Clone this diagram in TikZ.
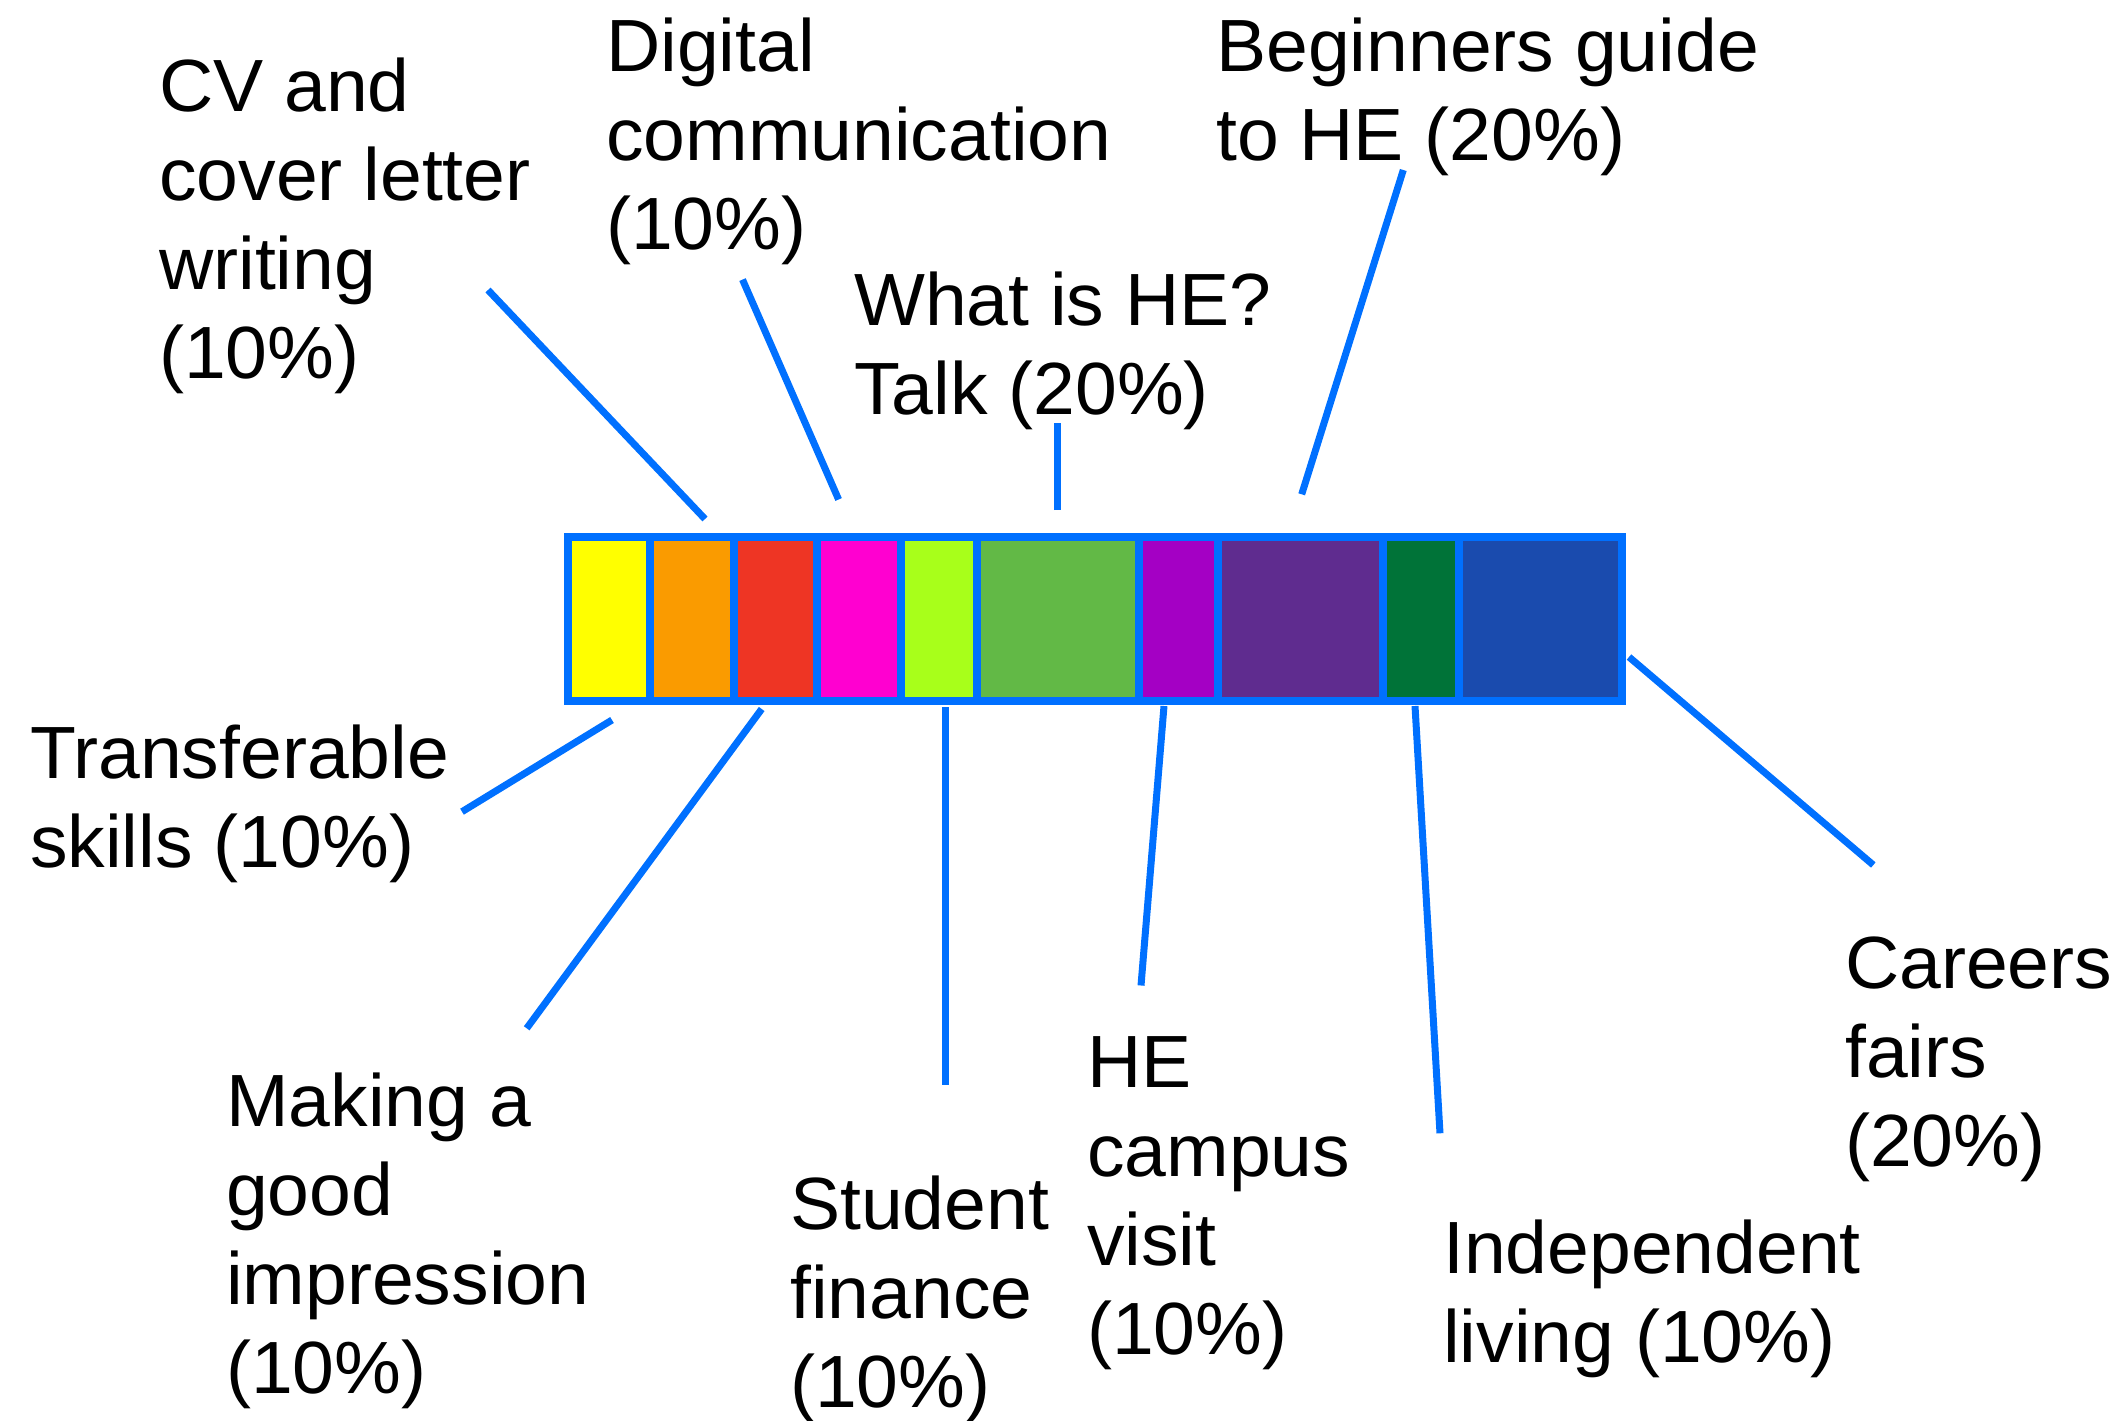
\documentclass[tikz,border=0pt]{standalone}
\usepackage{fontspec}
\setmainfont[FakeStretch=1.015]{Liberation Sans}
\usetikzlibrary{calc}
\definecolor{barblue}{RGB}{0,112,255}
\definecolor{cyel}{RGB}{255,255,0}
\definecolor{corg}{RGB}{250,155,0}
\definecolor{cred}{RGB}{238,53,36}
\definecolor{cmag}{RGB}{255,0,208}
\definecolor{clime}{RGB}{168,255,26}
\definecolor{cgrn}{RGB}{98,185,70}
\definecolor{cpur}{RGB}{164,0,196}
\definecolor{cdpur}{RGB}{95,44,143}
\definecolor{cdgrn}{RGB}{0,115,56}
\definecolor{cblu}{RGB}{26,75,174}
\newcommand\Ln[1]{\hbox{#1}}
\begin{document}
\begin{tikzpicture}[x=1pt,y=-1pt,
  cell/.style={rectangle,draw=barblue,line width=8pt,minimum height=164pt,inner sep=0pt},
  conn/.style={draw=barblue,line width=7pt},
  lbl/.style={anchor=base west,inner sep=0pt,font=\fontsize{74}{89}\selectfont,text=black}]
\useasboundingbox (0,0) rectangle (2117,1421);
% bar cells
\node[cell,fill=cyel,minimum width=82pt]   (c1)  at (609,619) {};
\node[cell,fill=corg,minimum width=84pt]   (c2)  at (692,619) {};
\node[cell,fill=cred,minimum width=83pt]   (c3)  at (775.5,619) {};
\node[cell,fill=cmag,minimum width=84pt]   (c4)  at (859,619) {};
\node[cell,fill=clime,minimum width=75.5pt](c5)  at (938.75,619) {};
\node[cell,fill=cgrn,minimum width=162.5pt](c6)  at (1057.75,619) {};
\node[cell,fill=cpur,minimum width=79pt]   (c7)  at (1178.5,619) {};
\node[cell,fill=cdpur,minimum width=165pt] (c8)  at (1300.5,619) {};
\node[cell,fill=cdgrn,minimum width=76pt]  (c9)  at (1421,619) {};
\node[cell,fill=cblu,minimum width=163pt]  (c10) at (1540.5,619) {};
% labels
\node[lbl] (tcv)  at (159,111.7)  {\vtop{\Ln{CV and}\Ln{cover letter}\Ln{writing}\Ln{(10\%)}}};
\node[lbl] (tdig) at (606,71.7)   {\vtop{\Ln{Digital}\Ln{communication}\Ln{(10\%)}}};
\node[lbl] (twhat) at (854,325)   {\vtop{\Ln{What is HE?}\Ln{Talk (20\%)}}};
\node[lbl] (tbeg) at (1216,71.7)  {\vtop{\Ln{Beginners guide}\Ln{to HE (20\%)}}};
\node[lbl] (ttra) at (30,778.3)   {\vtop{\Ln{Transferable}\Ln{skills (10\%)}}};
\node[lbl] (tmak) at (226,1126.7) {\vtop{\Ln{Making a}\Ln{good}\Ln{impression}\Ln{(10\%)}}};
\node[lbl] (tstu) at (790,1229.3) {\vtop{\Ln{Student}\Ln{finance}\Ln{(10\%)}}};
\node[lbl] (tcam) at (1087,1087.3){\vtop{\Ln{HE}\Ln{campus}\Ln{visit}\Ln{(10\%)}}};
\node[lbl] (tind) at (1443,1273.3){\vtop{\Ln{Independent}\Ln{living (10\%)}}};
\node[lbl] (tcar) at (1845,988)   {\vtop{\Ln{Careers}\Ln{fairs}\Ln{(20\%)}}};
% free ends of connectors
\coordinate (ecv)  at (488,290);
\coordinate (edig) at (742.5,279.6);
\coordinate (ewhat) at (1057.5,423);
\coordinate (ebeg) at (1403.3,170);
\coordinate (etra) at (462,811.7);
\coordinate (emak) at (526.7,1028.3);
\coordinate (estu) at (945,1085);
\coordinate (ecam) at (1141,985.5);
\coordinate (eind) at (1440,1133.3);
\coordinate (ecar) at (1873.3,865);
% connectors
\draw[conn] ($(c2.north)+(13,-14)$) -- (ecv);
\draw[conn] ($(c4.north)+(-20.4,-33.5)$) -- (edig);
\draw[conn] ($(c6.north)+(-0.25,-23)$) -- (ewhat);
\draw[conn] ($(c8.north)+(1.2,-38.7)$) -- (ebeg);
\draw[conn] ($(c1.south)+(3,15)$) -- (etra);
\draw[conn] ($(c3.south)+(-13.8,4)$) -- (emak);
\draw[conn] ($(c5.south)+(6.25,2)$) -- (estu);
\draw[conn] ($(c7.south)+(-14.5,1)$) -- (ecam);
\draw[conn] ($(c9.south)+(-6,1)$) -- (eind);
\draw[conn] ($(c10.east)+(3,38)$) -- (ecar);
\end{tikzpicture}
\end{document}
